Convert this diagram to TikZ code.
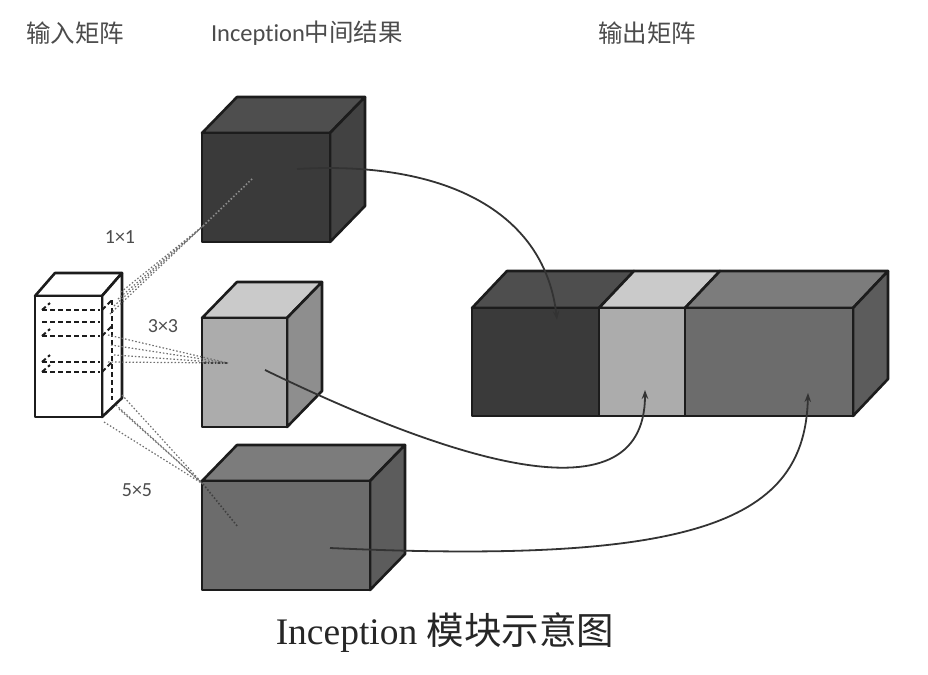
\documentclass[tikz,border=0pt]{standalone}
\usepackage{fontspec}
\setmainfont{Liberation Serif}
\newfontfamily\cjk{Noto Sans CJK SC}
\newfontfamily\hdr[Ligatures=NoCommon]{Carlito}
\usetikzlibrary{arrows.meta}
\definecolor{edge}{HTML}{1C1C1C}
\definecolor{darkF}{HTML}{3A3A3A}
\definecolor{darkT}{HTML}{4E4E4E}
\definecolor{darkR}{HTML}{424242}
\definecolor{lightF}{HTML}{ACACAC}
\definecolor{lightT}{HTML}{CACACA}
\definecolor{lightR}{HTML}{8E8E8E}
\definecolor{midF}{HTML}{6C6C6C}
\definecolor{midT}{HTML}{7C7C7C}
\definecolor{midR}{HTML}{5C5C5C}
\definecolor{dotc}{HTML}{707070}
\definecolor{curvec}{HTML}{333333}
\newcommand\mycube[7]{%
  \filldraw[fill=#6,cubeedge] (#1,#2) -- (#1+35,#2-36) -- (#3+35,#2-36) -- (#3,#2) -- cycle;
  \filldraw[fill=#7,cubeedge] (#3,#2) -- (#3+35,#2-36) -- (#3+35,#4-36) -- (#3,#4) -- cycle;
  \filldraw[fill=#5,cubeedge] (#1,#2) rectangle (#3,#4);
}
\begin{document}
\begin{tikzpicture}[x=1pt,y=-1pt,
  cubeedge/.style={draw=edge,line width=2.6pt,line join=round},
  header/.style={font=\fontsize{24.5}{26}\selectfont, text=black!70},
  small/.style={font=\hdr\fontsize{20}{22}\selectfont, text=black!70},
  dots/.style={draw=dotc,line width=1.2pt,dash pattern=on 1.5pt off 2pt},
  innerdots/.style={draw=black!75,line width=1.6pt,dash pattern=on 1.5pt off 2pt},
  slab/.style={draw=edge,line width=2pt,dash pattern=on 5pt off 3pt},
  flow/.style={draw=curvec,line width=1.8pt,-{Stealth[length=9pt,width=6.5pt]}}]
\useasboundingbox (0,0) rectangle (928,674);

% headers
\node[header] (h1) at (75,33) {\cjk 输入矩阵};
\node[header] (h2) at (307,33) {\hdr Inception\cjk 中间结果};
\node[header] (h3) at (647,33) {\cjk 输出矩阵};

% input cuboid
\filldraw[fill=white,cubeedge] (35,296) -- (55,273) -- (122,273) -- (102,296) -- cycle;
\filldraw[fill=white,cubeedge] (102,296) -- (122,273) -- (122,398) -- (102,417) -- cycle;
\filldraw[fill=white,cubeedge] (35,296) rectangle (102,417);
\foreach \yy in {310,322,336,362,372}
  \draw[slab] (42,\yy) -- (100,\yy);
\draw[slab] (42,310) -- (50,303);
\draw[slab] (42,336) -- (50,329);
\draw[slab] (42,372) -- (50,365);
\draw[slab] (42,362) -- (50,355);
\draw[slab] (102,310) -- (112,300);
\draw[slab] (102,336) -- (112,326);
\draw[slab] (102,372) -- (112,362);
\draw[slab] (112,300) -- (112,400);

% intermediate cubes
\mycube{202}{133}{330}{242}{darkF}{darkT}{darkR}
\mycube{202}{318}{287}{427}{lightF}{lightT}{lightR}
\mycube{202}{481}{370}{590}{midF}{midT}{midR}

% output matrix
\filldraw[fill=darkT,cubeedge] (472,308) -- (507,271) -- (634,271) -- (599,308) -- cycle;
\filldraw[fill=lightT,cubeedge] (599,308) -- (634,271) -- (720,271) -- (685,308) -- cycle;
\filldraw[fill=midT,cubeedge] (685,308) -- (720,271) -- (888,271) -- (853,308) -- cycle;
\filldraw[fill=midR,cubeedge] (853,308) -- (888,271) -- (888,379) -- (853,416) -- cycle;
\filldraw[fill=darkF,cubeedge] (472,308) rectangle (599,416);
\filldraw[fill=lightF,cubeedge] (599,308) rectangle (685,416);
\filldraw[fill=midF,cubeedge] (685,308) rectangle (853,416);

% named points for connectors
\coordinate (a1) at (110,314);
\coordinate (a2) at (114,306);
\coordinate (a3) at (118,299);
\coordinate (a4) at (121,292);
\coordinate (ta) at (203,226);
\coordinate (tb) at (253,178);
\coordinate (b1) at (108,335);
\coordinate (b2) at (111,345);
\coordinate (b3) at (114,355);
\coordinate (b4) at (108,362);
\coordinate (mb) at (228,363);
\coordinate (c1) at (122,395);
\coordinate (c2) at (116,405);
\coordinate (c3) at (119,409);
\coordinate (c4) at (104,422);
\coordinate (ba) at (203,484);
\coordinate (bb) at (238,527);

% dotted projections
\foreach \p in {a1,a2,a3,a4} \draw[dots] (\p) -- (ta);
\draw[innerdots,draw=black!45] (ta) -- (tb);
\foreach \p in {b1,b2,b3,b4} \draw[dots] (\p) -- (mb);
\draw[innerdots] (204,363) -- (mb);
\foreach \p in {c1,c2,c3,c4} \draw[dots] (\p) -- (ba);
\draw[innerdots] (ba) -- (bb);

% labels
\node[small] (l1) at (120,237) {1×1};
\node[small] (l3) at (163,326) {3×3};
\node[small] (l5) at (137,490) {5×5};

% flow curves
\coordinate (s1) at (297,169);
\coordinate (e1) at (557,320);
\coordinate (s2) at (265,370);
\coordinate (e2) at (645,390);
\coordinate (s3) at (330,548);
\coordinate (e3) at (808,393);
\draw[flow] (s1) .. controls (450,160) and (545,215) .. (e1);
\draw[flow] (s2) .. controls (430,450) and (645,530) .. (e2);
\draw[flow] (s3) .. controls (700,565) and (805,520) .. (e3);

% caption
\node[font=\fontsize{37.5}{40}\selectfont, text=black!85] (cap) at (445,633) {Inception {\cjk 模块示意图}};
\end{tikzpicture}
\end{document}
